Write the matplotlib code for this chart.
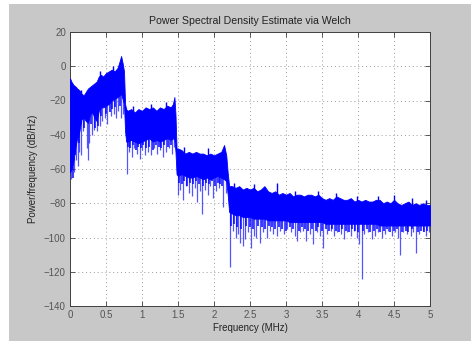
import matplotlib
matplotlib.use("Agg")
import matplotlib.pyplot as plt
from matplotlib.patches import Rectangle
import numpy as np

plt.rcParams['font.family'] = ['Liberation Sans', 'DejaVu Sans']

# ---- data (MHz, dB/Hz) ----
band_f = [0.00, 0.02, 0.05, 0.08, 0.10, 0.13, 0.16, 0.19, 0.22, 0.25, 0.28, 0.31,
          0.34, 0.37, 0.40, 0.43, 0.46, 0.50, 0.54, 0.58, 0.62, 0.66, 0.69, 0.71,
          0.73, 0.75, 0.765, 0.78, 0.80, 0.85, 0.90, 0.95, 1.00, 1.05, 1.10, 1.15,
          1.20, 1.25, 1.30, 1.35, 1.40, 1.43, 1.45, 1.465, 1.48, 1.50, 1.55, 1.60,
          1.65, 1.70, 1.75, 1.80, 1.85, 1.90, 1.95, 2.00, 2.05, 2.10, 2.14, 2.17,
          2.19, 2.21, 2.25, 2.30, 2.35, 2.40, 2.45, 2.50, 2.55, 2.60, 2.65, 2.70,
          2.75, 2.80, 2.85, 2.90, 2.95, 3.00, 3.05, 3.10, 3.15, 3.20, 3.25, 3.30,
          3.35, 3.40, 3.45, 3.50, 3.55, 3.60, 3.65, 3.70, 3.75, 3.80, 3.85, 3.90,
          3.95, 4.00, 4.05, 4.10, 4.15, 4.20, 4.25, 4.30, 4.35, 4.40, 4.45, 4.50,
          4.55, 4.60, 4.65, 4.70, 4.75, 4.80, 4.85, 4.90, 4.95, 5.00]
band_top = [-7, -9, -11, -12, -13, -14, -16, -17, -15, -13, -12, -11,
            -10, -9, -6, -5, -6, -4, -3, -2, -3, -1, 3, 6,
            2, -3, -22, -25, -26, -25, -27, -25, -26, -24, -25, -24,
            -26, -24, -25, -23, -24, -22, -18, -28, -48, -48, -49, -51,
            -50, -51, -50, -51, -51, -52, -51, -52, -51, -50, -46, -52,
            -62, -70, -70, -71, -70, -72, -71, -72, -71, -73, -72, -70,
            -73, -74, -73, -75, -74, -75, -74, -76, -75, -75, -76, -75,
            -75, -76, -75, -77, -78, -77, -78, -76, -77, -78, -78, -77,
            -79, -78, -79, -78, -79, -79, -78, -78, -80, -79, -80, -78,
            -80, -81, -80, -79, -81, -80, -81, -80, -81, -81]
band_bottom = [-62, -60, -55, -46, -42, -38, -31, -30, -32, -33, -28, -27,
               -30, -32, -26, -24, -24, -23, -22, -20, -19, -18, -17, -16,
               -19, -22, -38, -44, -44, -43, -44, -45, -44, -43, -42, -44,
               -43, -44, -43, -42, -43, -42, -43, -50, -63, -64, -63, -64,
               -65, -65, -64, -65, -66, -65, -66, -65, -64, -65, -66, -67,
               -75, -85, -86, -87, -87, -88, -88, -88, -89, -89, -89, -89,
               -90, -90, -90, -90, -90, -90, -91, -91, -91, -91, -91, -91,
               -91, -91, -91, -91, -92, -92, -92, -92, -92, -92, -92, -92,
               -92, -92, -92, -92, -92, -92, -92, -93, -93, -93, -93, -93,
               -93, -93, -93, -93, -93, -93, -93, -93, -93, -93]

# deep dips below the dense band
spike_f = [0.02, 0.05, 0.09, 0.11, 0.13, 0.15, 0.18, 0.23, 0.25, 0.27, 0.30, 0.33,
           0.37, 0.41, 0.45, 0.48, 0.52, 0.57, 0.61, 0.64, 0.67, 0.71, 0.73,
           0.79, 0.82, 0.86, 0.89, 0.93, 0.97, 1.00, 1.04, 1.08, 1.13, 1.17, 1.21,
           1.25, 1.29, 1.34, 1.38, 1.42, 1.44,
           1.50, 1.53, 1.57, 1.61, 1.65, 1.69, 1.73, 1.77, 1.80, 1.83, 1.87, 1.91,
           1.95, 1.99, 2.03, 2.07, 2.13, 2.16,
           2.22, 2.26, 2.30, 2.33, 2.36, 2.40, 2.43, 2.47, 2.52, 2.56, 2.59, 2.64,
           2.68, 2.73, 2.78, 2.82, 2.87, 2.92, 2.97, 3.02, 3.07, 3.12, 3.15, 3.20,
           3.24, 3.28, 3.33, 3.38, 3.43, 3.47, 3.52, 3.57, 3.62, 3.66, 3.71, 3.76,
           3.80, 3.85, 3.90, 3.94, 3.98, 4.02, 4.05, 4.09, 4.14, 4.20, 4.24, 4.28,
           4.33, 4.38, 4.42, 4.47, 4.52, 4.56, 4.59, 4.63, 4.68, 4.73, 4.77, 4.80,
           4.85, 4.90, 4.94, 4.98]
spike_db = [-66, -62, -55, -58, -50, -52, -38, -48, -55, -45, -40, -37,
            -38, -35, -32, -30, -34, -29, -28, -30, -26, -30, -28,
            -63, -50, -53, -48, -51, -54, -49, -52, -50, -52, -48, -51,
            -49, -53, -50, -48, -51, -47,
            -75, -72, -78, -70, -74, -76, -71, -79, -73, -86, -72, -75,
            -70, -77, -73, -71, -82, -74,
            -117, -96, -100, -98, -103, -105, -101, -97, -106, -99, -100, -103,
            -97, -100, -96, -98, -99, -96, -98, -95, -97, -99, -102, -97,
            -96, -102, -98, -104, -97, -99, -106, -98, -96, -99, -97, -98,
            -101, -97, -99, -96, -100, -104, -124, -98, -97, -101, -99, -97,
            -100, -98, -96, -99, -97, -100, -110, -97, -98, -99, -97, -109,
            -98, -96, -99, -97]

# shorter dips forming the fuzzy lower fringe
fringe_f = [0.035, 0.07, 0.12, 0.20, 0.29, 0.35, 0.39, 0.43, 0.50, 0.55, 0.59, 0.63,
            0.69, 0.81, 0.84, 0.88, 0.91, 0.95, 0.99, 1.02, 1.06, 1.10, 1.15, 1.19,
            1.23, 1.27, 1.31, 1.36, 1.40, 1.52, 1.55, 1.59, 1.63, 1.67, 1.71, 1.75,
            1.79, 1.85, 1.89, 1.93, 1.97, 2.01, 2.05, 2.09, 2.11, 2.24, 2.28, 2.32,
            2.38, 2.45, 2.50, 2.54, 2.61, 2.66, 2.71, 2.76, 2.80, 2.85, 2.90, 2.95,
            3.00, 3.05, 3.10, 3.18, 3.22, 3.26, 3.31, 3.36, 3.41, 3.45, 3.50, 3.55,
            3.60, 3.64, 3.69, 3.74, 3.78, 3.83, 3.88, 3.92, 3.96, 4.00, 4.07, 4.12,
            4.17, 4.22, 4.26, 4.31, 4.36, 4.40, 4.45, 4.50, 4.54, 4.61, 4.66, 4.70,
            4.75, 4.83, 4.88, 4.92, 4.96]
fringe_db = [-65, -52, -45, -36, -34, -36, -35, -29, -28, -27, -25, -24,
             -23, -47, -48, -46, -49, -47, -48, -46, -48, -47, -49, -46,
             -47, -48, -46, -47, -46, -68, -69, -67, -70, -68, -69, -67,
             -69, -70, -68, -69, -67, -70, -68, -69, -70, -93, -92, -94,
             -95, -93, -94, -95, -93, -94, -95, -93, -94, -95, -94, -95,
             -96, -94, -95, -96, -94, -95, -96, -95, -96, -94, -96, -95,
             -96, -95, -96, -97, -95, -96, -97, -95, -96, -97, -96, -95,
             -97, -96, -95, -97, -96, -95, -97, -96, -95, -97, -96, -97,
             -95, -97, -96, -97, -96]

# peaks above the dense band
peak_f = [0.15, 0.42, 0.60, 0.88, 1.12, 1.33, 1.58, 1.92, 2.28, 2.55, 2.87, 3.12,
          3.45, 3.70, 3.98, 4.28, 4.50, 4.75, 4.95]
peak_db = [-14, -3, 0, -23, -22, -21, -47, -48, -68, -69, -68, -73,
           -73, -74, -76, -76, -75, -77, -78]

x_ticks = [0, 0.5, 1, 1.5, 2, 2.5, 3, 3.5, 4, 4.5, 5]
x_ticklabels = ['0', '0.5', '1', '1.5', '2', '2.5', '3', '3.5', '4', '4.5', '5']
y_ticks = [20, 0, -20, -40, -60, -80, -100, -120, -140]

# ---- figure ----
fig = plt.figure(figsize=(4.71, 3.41), dpi=100, facecolor='white')
fig.patches.append(Rectangle((9 / 471, 0), 1 - 9 / 471, 337 / 341,
                             transform=fig.transFigure, facecolor='#c8c8c8',
                             edgecolor='none', zorder=-10))
ax = fig.add_axes([70 / 471, 1 - 306 / 341, 360 / 471, 274 / 341])
ax.set_facecolor('white')

# dips / peaks join the band (their inner ends are hidden under the band)
spike_in = np.interp(spike_f, band_f, band_bottom) + 2
fringe_in = np.interp(fringe_f, band_f, band_bottom) + 2
peak_in = np.interp(peak_f, band_f, band_top) - 2
ax.vlines(spike_f, spike_db, spike_in, colors='#2a2aff', linewidth=0.9,
          alpha=0.8, zorder=3)
ax.vlines(fringe_f, fringe_db, fringe_in, colors='#0000ff', linewidth=1.2,
          alpha=0.9, zorder=3)
ax.vlines(peak_f, peak_in, peak_db, colors='#0000ff', linewidth=1.0, zorder=3)

# dense band
ax.fill_between(band_f, band_bottom, band_top, color='#0000ff', linewidth=0.6,
                zorder=4)

ax.set_xlim(0, 5)
ax.set_ylim(-140, 20)
ax.set_xticks(x_ticks)
ax.set_xticklabels(x_ticklabels)
ax.set_yticks(y_ticks)
ax.grid(True, color='#9a9a9a', linestyle=(0, (1, 3)), linewidth=0.7)
ax.set_axisbelow(True)
ax.tick_params(direction='in', length=3.5, width=0.6, colors='#404040',
               labelsize=7, labelcolor='#555555', top=True, right=True, pad=3)
for s in ax.spines.values():
    s.set_color('#404040')
    s.set_linewidth(0.7)

ax.set_title('Power Spectral Density Estimate via Welch', fontsize=7.6,
             color='#222222', pad=6)
ax.set_xlabel('Frequency (MHz)', fontsize=7, color='#222222', labelpad=2)
ax.set_ylabel('Power/frequency (dB/Hz)', fontsize=7, color='#222222', labelpad=4)

fig.savefig('out.png', dpi=100, facecolor=fig.get_facecolor())
